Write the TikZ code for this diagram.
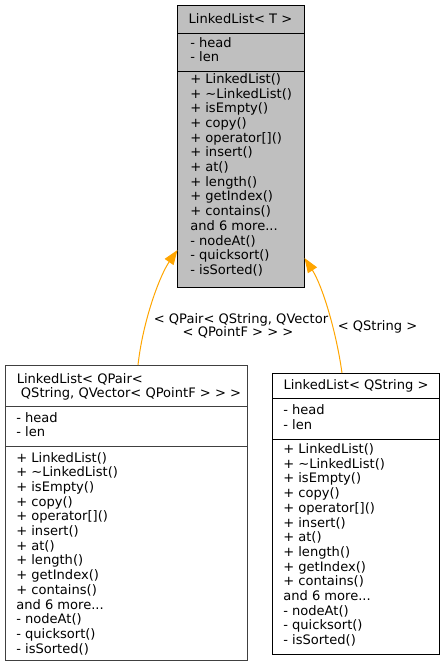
\documentclass[tikz,border=0pt]{standalone}
\usepackage{fontspec}
\setmainfont{DejaVu Sans}
\usetikzlibrary{arrows.meta,fit}
\definecolor{basefill}{HTML}{BFBFBF}
\definecolor{inhcol}{HTML}{FFA500}
\definecolor{greyline}{HTML}{404040}
\tikzset{
  txt/.style={anchor=base west, inner sep=0pt, font=\fontsize{9.8}{11}\selectfont},
  ctxt/.style={anchor=base, inner sep=0pt, font=\fontsize{9.8}{11}\selectfont},
  classbox/.style={draw=black, line width=0.75pt, inner sep=0pt},
  inherit/.style={draw=inhcol, line width=0.75pt, -{Triangle[length=11pt,width=8pt,fill=inhcol]}},
}
\newcommand\andmoretext{and 6 more...}
\newcommand\membersat[3]{%
  \node[txt] (#3-a1) at (#1,#2) {- head};
  \node[txt] (#3-a2) at (#1,{#2+14.7}) {- len};
}
\newcommand\methodsat[3]{%
  \foreach \t [count=\i from 0] in {{+ LinkedList()},{+ \textasciitilde LinkedList()},{+ isEmpty()},{+ copy()},{+ operator[]()},{+ insert()},{+ at()},{+ length()},{+ getIndex()},{+ contains()},{\andmoretext},{- nodeAt()},{- quicksort()},{- isSorted()}}
    {\node[txt] (#3-m\i) at (#1,{#2+\i*14.7}) {\t};}
}
\begin{document}
\begin{tikzpicture}[x=0.75pt,y=-0.75pt]
\useasboundingbox (0,0) rectangle (445,668);

% base class
\node[classbox, fill=basefill, fit={(177,5) (304,287)}] (base) {};
\draw[line width=0.75pt] (177,33) -- (304,33);
\draw[line width=0.75pt] (177,71) -- (304,71);
\node[ctxt] (base-title) at (240.5,23.5) {LinkedList< T >};
\membersat{190}{47}{base}
\methodsat{190}{83.3}{base}

% QPair instance
\node[classbox, draw=greyline, fill=white, fit={(5,365) (247.5,660)}] (qpair) {};
\draw[line width=0.75pt, greyline] (5,406) -- (247.5,406);
\draw[line width=0.75pt, greyline] (5,446) -- (247.5,446);
\node[txt] (qpair-t1) at (16.5,383) {LinkedList< QPair<};
\node[txt] (qpair-t2) at (16.5,397.7) {\ QString, QVector< QPointF > > >};
\membersat{16}{422}{qpair}
\methodsat{16}{462}{qpair}

% QString instance
\node[classbox, fill=white, fit={(272.5,373) (439,654)}] (qstr) {};
\draw[line width=0.75pt] (272.5,398) -- (439,398);
\draw[line width=0.75pt] (272.5,439) -- (439,439);
\node[ctxt] (qstr-title) at (356,389) {LinkedList< QString >};
\membersat{283}{414.5}{qstr}
\methodsat{283}{453.5}{qstr}

% connectors
\coordinate (s1) at (138,365);
\coordinate (e1) at (177.5,250);
\coordinate (s2) at (342,373);
\coordinate (e2) at (304.5,258);
\draw[inherit] (s1) .. controls (143,320) and (160,275) .. (e1);
\draw[inherit] (s2) .. controls (336,330) and (322,285) .. (e2);

\node[ctxt] (l1a) at (241,323) {< QPair< QString, QVector};
\node[ctxt] (l1b) at (238,336.7) {< QPointF > > >};
\node[ctxt] (l2) at (377.5,330) {< QString >};
\end{tikzpicture}
\end{document}
